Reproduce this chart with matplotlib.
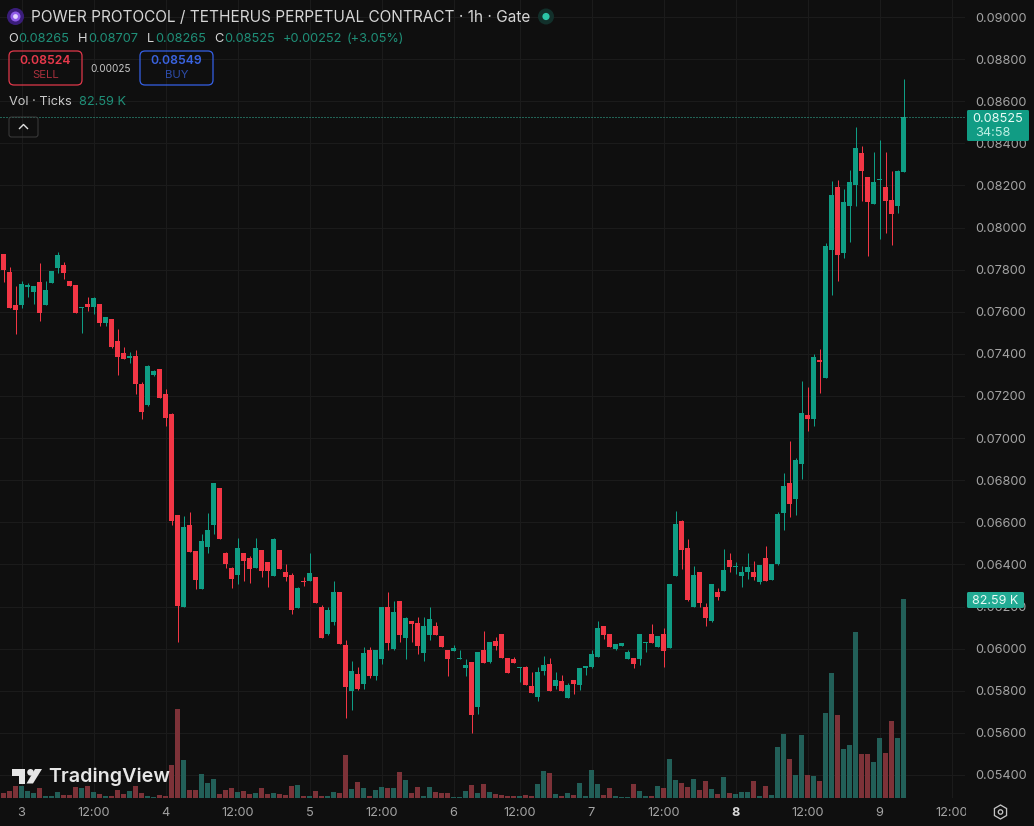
import matplotlib
matplotlib.use("Agg")
import matplotlib.pyplot as plt
import numpy as np
from matplotlib.patches import FancyBboxPatch, Circle, Polygon, RegularPolygon
from matplotlib.transforms import Bbox

plt.rcParams['font.family'] = ['Inter', 'DejaVu Sans']

# Hourly candles, prices in points of 0.00001
opens = [7875,7789,7632,7632,7718,7694,7741,7632,7737,7808,7822,7746,7727,7620,7637,7623,7637,7547,7566,7461,
         7404,7380,7390,7257,7157,7300,7328,7209,7114,6634,6197,6587,6463,6283,6482,6587,6762,6454,6382,6349,
         6454,6430,6382,6468,6411,6344,6468,6363,6349,6192,6321,6321,6340,6197,6069,6126,6268,6017,5798,5879,
         5831,5993,5870,5950,6197,5998,6226,6050,6131,6122,5979,6065,6107,6060,5993,5989,5951,5908,5936,5723,
         5993,5936,6036,6069,5955,5951,5910,5913,5822,5770,5894,5927,5822,5846,5765,5851,5827,5908,5913,5960,
         6107,6069,5998,6012,5951,5955,5951,6028,6069,6008,6069,6003,6345,6606,6478,6198,6364,6198,6131,6269,
         6274,6421,6389,6345,6364,6364,6316,6430,6326,6402,6644,6787,6711,6877,7110,7091,7371,7285,7893,8192,
         7879,8102,8202,8354,8240,8112,8227,8192,8130,8102,8265]
highs = [7875,7811,7722,7745,7738,7722,7832,7746,7794,7884,7836,7746,7727,7623,7670,7670,7637,7575,7566,7518,
         7433,7409,7418,7266,7347,7323,7328,7233,7118,6634,6629,6648,6463,6544,6644,6786,6762,6458,6387,6525,
         6454,6440,6525,6468,6411,6525,6468,6401,6359,6292,6340,6454,6340,6207,6197,6321,6268,6040,5941,5912,
         6007,6007,5993,6197,6268,6226,6226,6150,6131,6150,6150,6198,6126,6060,5993,6017,5993,5951,5936,5984,
         6084,6031,6055,6069,5955,5960,5913,5917,5889,5913,5965,5956,5889,5875,5837,5851,5908,5917,5993,6131,
         6107,6069,6022,6027,5993,5955,6069,6031,6117,6060,6098,6307,6654,6611,6521,6393,6364,6217,6307,6288,
         6473,6454,6411,6393,6454,6416,6397,6487,6402,6649,6834,6986,6906,7271,7243,7400,7423,7926,8221,8226,
         8183,8273,8477,8387,8240,8358,8416,8358,8268,8273,8707]
lows = [7741,7618,7494,7618,7669,7637,7556,7632,7737,7784,7756,7722,7594,7499,7604,7589,7532,7532,7428,7300,
        7376,7357,7209,7091,7152,7295,7190,7057,6587,6031,6197,6458,6283,6283,6454,6544,6520,6382,6287,6306,
        6321,6311,6382,6340,6292,6344,6378,6321,6164,6192,6297,6321,6216,6050,6064,6112,6021,5670,5708,5803,
        5808,5860,5850,5927,5993,5993,6031,5951,6031,5974,5941,6041,6065,6008,5870,5989,5951,5870,5599,5689,
        5932,5932,5993,5955,5884,5932,5841,5827,5789,5751,5875,5799,5808,5799,5765,5784,5803,5875,5908,5960,
        6046,6008,5993,6012,5951,5908,5922,5984,6027,6008,5913,6003,6345,6378,6226,6198,6198,6107,6126,6231,
        6274,6364,6354,6293,6331,6326,6307,6321,6326,6397,6563,6625,6635,6806,7034,7057,7214,7285,7679,7746,
        7855,7931,8102,8126,7864,8112,7945,7974,7917,8069,8265]
closes = [7798,7618,7608,7732,7727,7722,7594,7703,7794,7871,7784,7722,7594,7623,7621,7665,7547,7575,7433,7385,
          7376,7390,7257,7124,7342,7319,7190,7095,6606,6202,6577,6458,6325,6511,6563,6786,6520,6401,6330,6477,
          6416,6378,6477,6368,6368,6520,6378,6340,6183,6287,6318,6359,6216,6050,6183,6268,6021,5817,5893,5808,
          5979,5870,5993,6197,6026,6173,6064,6145,6117,6012,6107,6141,6065,6008,5951,6003,5954,5922,5685,5984,
          5932,6031,6012,5955,5884,5932,5913,5827,5789,5889,5922,5799,5851,5799,5827,5832,5908,5917,5974,6098,
          6065,6008,6022,6027,5984,5927,6069,6031,6027,6060,5989,6307,6592,6469,6231,6350,6217,6146,6307,6245,
          6374,6388,6393,6364,6388,6340,6397,6321,6402,6639,6772,6687,6896,7119,7091,7385,7361,7912,8154,7869,
          8121,8216,8377,8268,8121,8216,8230,8126,8064,8268,8525]
POINT = 1e-5

# Tick volume per candle, thousands
volumes = [1.94,2.9,4.98,4.98,2.9,2.07,4.15,.83,.83,2.49,1.25,1.25,4.56,4.15,4.98,2.49,1.66,.83,.83,3.32,
           1.66,2.9,4.98,2.07,.83,.41,1.25,.83,13.69,36.93,15.77,3.32,3.32,9.96,6.22,7.88,1.66,3.32,4.15,2.49,
           2.9,1.66,2.07,4.15,1.66,2.07,1.66,1.25,4.98,5.39,.83,.83,2.9,.83,.83,2.49,2.07,17.84,3.74,6.64,
           4.15,.83,3.32,4.56,4.15,4.15,10.79,7.47,2.07,4.56,.83,4.56,2.49,2.07,2.07,.41,.41,2.9,5.39,2.07,
           5.81,2.49,1.66,1.25,.83,.83,.83,1.25,.83,5.81,11.2,10.37,1.66,.83,2.07,1.25,6.22,.83,11.62,5.81,
           1.25,4.15,.83,.41,.41,5.81,2.9,.83,.83,4.98,4.15,16.18,7.47,6.22,4.56,7.88,3.32,7.05,3.74,1.66,
           8.71,2.07,1.66,2.49,2.49,7.05,.83,4.98,1.25,21.16,26.56,16.18,9.54,26.14,9.54,9.13,7.05,35.27,51.87,34.44,
           20.33,22.0,68.88,18.26,18.26,14.94,24.9,18.67,31.95,24.9,82.59]

time_ticks = [3, 15, 27, 39, 51, 63, 75, 86, 98, 110, 122, 134, 146, 158]
time_labels = ['3', '12:00', '4', '12:00', '5', '12:00', '6', '12:00', '7', '12:00', '8', '12:00', '9', '12:00']
price_ticks = [0.054 + 0.002 * k for k in range(19)]

symbol = 'POWER PROTOCOL / TETHERUS PERPETUAL CONTRACT · 1h · Gate'

BG = '#0f0f0f'
GRID = '#1b1b1b'
UP = '#0f9d84'
DOWN = '#f23645'
VOL_UP = '#225f58'
VOL_DOWN = '#7d3238'
TICK = '#a3a3a3'
TEXT = '#d4d4d4'
GAIN = '#1f8f78'
ONE_PX = 0.72

W, H = 1034, 826
fig = plt.figure(figsize=(W / 100, H / 100), dpi=100, facecolor=BG)
rect = [0, 28 / H, 965 / W, 798 / H]
xlim = (-3.5 / 6, 961.5 / 6)
ylim = (0.0529076, 0.0908074)

o, hi, lo, c = (np.array(a) * POINT for a in (opens, highs, lows, closes))
x = np.arange(len(o))
rising = c >= o

# Bottom layer carries the grid and both axis scales
base = fig.add_axes(rect, zorder=1, facecolor=BG)
base.set_xlim(xlim)
base.set_ylim(ylim)
base.set_xticks(time_ticks)
base.set_xticklabels(time_labels)
base.set_yticks(price_ticks)
base.set_yticklabels([f'{p:.5f}' for p in price_ticks])
base.yaxis.tick_right()
base.tick_params(axis='y', length=0, pad=7.4, labelsize=9.2, labelcolor=TICK)
base.tick_params(axis='x', length=0, pad=6.8, labelsize=9.2, labelcolor=TICK)
base.grid(True, color=GRID, lw=ONE_PX)
base.set_axisbelow(True)
for s in base.spines.values():
    s.set_visible(False)
for lab, txt in zip(base.get_xticklabels(), time_labels):
    if txt == '8':
        lab.set_fontweight('bold')
        lab.set_color('#d8d8d8')
# The final time label is cut off where the price scale begins
last_lab = base.get_xticklabels()[-1]
last_lab.set_clip_box(Bbox([[0, 0], [966, H]]))
last_lab.set_clip_on(True)

# Volume histogram
vol_ax = fig.add_axes(rect, zorder=2, facecolor='none')
vol_ax.axis('off')
vol_ax.set_xlim(xlim)
vol_ax.set_ylim(0, 82.59 * 798 / 199)
vol_ax.bar(x, volumes, width=5 / 6, color=[VOL_UP if r else VOL_DOWN for r in rising], linewidth=0)

# Candles, with very small bodies kept visible at one pixel
ax = fig.add_axes(rect, zorder=3, facecolor='none')
ax.axis('off')
ax.set_xlim(xlim)
ax.set_ylim(ylim)
colors = [UP if r else DOWN for r in rising]
ax.vlines(x, lo, hi, colors=colors, lw=ONE_PX)
ax.bar(x, np.maximum(np.abs(c - o), 5 * POINT), bottom=np.minimum(o, c), width=5 / 6, color=colors, linewidth=0)
ax.axhline(c[-1], color='#35b59c', lw=ONE_PX, ls=(0, (1, 2)))

# Header, tags and watermark are placed on a pixel-scaled overlay
ov = fig.add_axes([0, 0, 1, 1], zorder=4, facecolor='none')
ov.axis('off')
ov.set_xlim(0, W)
ov.set_ylim(H, 0)


def label(px, py, s, color=TEXT, size=9.2, ha='left', weight='normal'):
    return ov.text(px, py, s, color=color, fontsize=size, ha=ha, va='center', fontweight=weight)


def box(x0, y0, x1, y1, face='none', edge='none', lw=1.0, r=4):
    ov.add_patch(FancyBboxPatch((x0 + r, y0 + r), x1 - x0 - 2 * r, y1 - y0 - 2 * r,
                                boxstyle=f'round,pad={r},rounding_size={r}',
                                fc=face, ec=edge, lw=lw))


# Coin badge and market status dot
ov.add_patch(Circle((15.5, 16.5), 8.5, fc='#3a1d7a', ec='none'))
ov.add_patch(Circle((15.5, 16.5), 5, fc='#8e5be8', ec='none'))
ov.add_patch(Circle((15.5, 16.5), 2.4, fc='#e4d6ff', ec='none'))
ov.add_patch(Circle((546, 16.5), 8, fc='#12302b', ec='none'))
ov.add_patch(Circle((546, 16.5), 3.6, fc='#2bc4a6', ec='none'))

label(31, 17.5, symbol, color='#d6d6d6', size=11.08)

# Open, high, low, close row
for px, s in [(8, 'O'), (78, 'H'), (147, 'L'), (214, 'C')]:
    label(px, 39.3, s, color='#d6d6d6', size=9.2)
for px, s in [(18.5, f'{o[-1]:.5f}'), (88.5, f'{hi[-1]:.5f}'), (155, f'{lo[-1]:.5f}'),
              (224, f'{c[-1]:.5f}'), (283, '+0.00252'), (347, '(+3.05%)')]:
    label(px, 39.3, s, color=GAIN, size=9.2)

# Order buttons
box(9, 51, 82, 85, edge='#e0384a', lw=0.9, r=5)
label(45.5, 61, '0.08524', color='#e8394b', size=8.8, ha='center', weight='semibold')
label(45.5, 75.5, 'SELL', color='#a8303c', size=8.2, ha='center')
label(111, 69, '0.00025', color='#c8c8c8', size=7.2, ha='center')
box(140, 51, 213, 85, edge='#3560e6', lw=0.9, r=5)
label(176.5, 61, '0.08549', color='#3a63e0', size=8.8, ha='center', weight='semibold')
label(176.5, 75.5, 'BUY', color='#2d4caa', size=8.2, ha='center')

label(9, 102.3, 'Vol · Ticks', color='#c8c8c8', size=9.2)
label(79, 102.3, '82.59 K', color=GAIN, size=9.2)

# Collapse button
box(9, 117, 38, 137, edge='#3c3c3c', lw=ONE_PX, r=2.5)
ov.plot([19.5, 23.5, 27.5], [128.5, 124.5, 128.5], color='#e0e0e0', lw=1.0)

# Last price and last volume tags on the scale
box(967, 110, 1029, 141, face='#119c84', r=1.5)
label(998, 119.3, f'{c[-1]:.5f}', color='#e8fbf6', size=9.2, ha='center')
label(975.5, 133.2, '34:58', color='#bdf0e4', size=9.2)
box(967, 592, 1024, 608, face='#22ab94', r=1.5)
label(995.5, 600.5, '82.59 K', color='#e8fbf6', size=9, ha='center')

# Watermark mark and wordmark
WM = '#e6e6e6'
ov.add_patch(Polygon([(12, 769), (25, 769), (25, 783.5), (18.5, 783.5), (18.5, 775.5), (12, 775.5)],
                     fc=WM, ec='none'))
ov.add_patch(Circle((30.5, 772.3), 3.3, fc=WM, ec='none'))
ov.add_patch(Polygon([(35, 769), (42, 769), (33, 783.5), (26.5, 783.5)], fc=WM, ec='none'))
label(48.5, 777, 'TradingView', color=WM, size=14.2, weight='semibold')

# Settings icon
ov.add_patch(RegularPolygon((1000.5, 812), 6, radius=7, orientation=0, fc='none', ec='#c4c4c4', lw=ONE_PX * 1.3))
ov.add_patch(Circle((1000.5, 812), 2.2, fc='none', ec='#c4c4c4', lw=ONE_PX * 1.3))

fig.savefig('out.png', dpi=100, facecolor=BG)
